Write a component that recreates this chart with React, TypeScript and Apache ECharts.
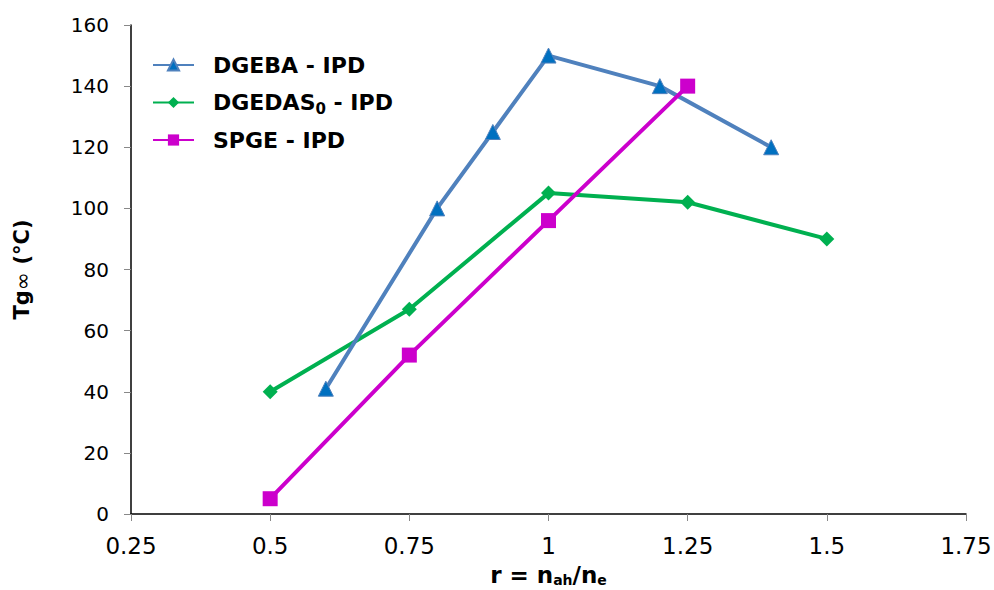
import React, { useEffect, useRef } from "react";
import * as echarts from "echarts";

const xTicks = [0.25, 0.5, 0.75, 1, 1.25, 1.5, 1.75];
const dgebaX = [0.6, 0.8, 0.9, 1.0, 1.2, 1.4];
const dgebaY = [41, 100, 125, 150, 140, 120];
const dgedasX = [0.5, 0.75, 1.0, 1.25, 1.5];
const dgedasY = [40, 67, 105, 102, 90];
const spgeX = [0.5, 0.75, 1.0, 1.25];
const spgeY = [5, 52, 96, 140];

const zip = (xs: number[], ys: number[]) => xs.map((x, i) => [x, ys[i]]);

export default function App() {
  const ref = useRef<HTMLDivElement>(null);
  useEffect(() => {
    if (!ref.current) return;
    const chart = echarts.init(ref.current, null, { renderer: "svg" });
    const font = "'DejaVu Sans', sans-serif";
    chart.setOption({
      animation: false,
      backgroundColor: "#ffffff",
      textStyle: { fontFamily: font },
      grid: { left: 131, right: 28, top: 25, bottom: 76, containLabel: false, outerBoundsMode: "none" },
      legend: {
        orient: "vertical",
        left: 152,
        top: 54,
        padding: 0,
        itemWidth: 41,
        itemHeight: 14,
        itemGap: 13,
        data: ["DGEBA - IPD", "DGEDAS0 - IPD", "SPGE - IPD"],
        formatter: (name: string) =>
          name === "DGEDAS0 - IPD"
            ? "{a|DGEDAS}{s|0}{a| - IPD}"
            : "{a|" + name + "}",
        textStyle: {
          padding: [0, 0, 0, 14],
          rich: {
            a: { fontSize: 22, fontWeight: "bold", color: "#000", fontFamily: font, lineHeight: 26 },
            s: { fontSize: 15, fontWeight: "bold", color: "#000", fontFamily: font, lineHeight: 26, padding: [12, 0, 0, 0] },
          },
        },
      },
      xAxis: {
        type: "value",
        min: 0.25,
        max: 1.75,
        interval: 0.25,
        name: "{a|r = n}{s|ah}{a|/n}{s|e}",
        nameLocation: "middle",
        nameGap: 48,
        nameTextStyle: {
          rich: {
            a: { fontSize: 23, fontWeight: "bold", color: "#000", fontFamily: font, lineHeight: 26 },
            s: { fontSize: 14, fontWeight: "bold", color: "#000", fontFamily: font, lineHeight: 18, padding: [10, 0, 0, 0] },
          },
        },
        axisLine: { show: true, lineStyle: { color: "#000", width: 1.5 } },
        axisTick: { show: true, length: 7, lineStyle: { color: "#888" } },
        axisLabel: {
          fontSize: 23,
          color: "#000",
          margin: 20,
          formatter: (v: number) => (xTicks.includes(v) ? String(v) : ""),
        },
        splitLine: { show: false },
      },
      yAxis: {
        type: "value",
        min: 0,
        max: 160,
        interval: 20,
        name: "{a|Tg}{i|∞}{a| (°C)}",
        nameLocation: "middle",
        nameGap: 98,
        nameRotate: 90,
        nameTextStyle: {
          rich: {
            a: { fontSize: 21, fontWeight: "bold", color: "#000", fontFamily: font },
            i: { fontSize: 22, fontWeight: "normal", color: "#000", fontFamily: font },
          },
        },
        axisLine: { show: true, lineStyle: { color: "#000", width: 1.5 } },
        axisTick: { show: true, inside: false, length: 7, lineStyle: { color: "#888" } },
        axisLabel: { fontSize: 20, color: "#000", margin: 22 },
        splitLine: { show: false },
      },
      series: [
        {
          name: "DGEBA - IPD",
          type: "line",
          data: zip(dgebaX, dgebaY),
          symbol: "triangle",
          symbolSize: 15,
          lineStyle: { color: "#4F81BD", width: 4 },
          itemStyle: { color: "#0070C0", borderColor: "#4F81BD", borderWidth: 1 },
          color: "#4F81BD",
          z: 3,
        },
        {
          name: "DGEDAS0 - IPD",
          type: "line",
          data: zip(dgedasX, dgedasY),
          symbol: "diamond",
          symbolSize: 15,
          lineStyle: { color: "#00B050", width: 4 },
          itemStyle: { color: "#00B050" },
          color: "#00B050",
          z: 2,
        },
        {
          name: "SPGE - IPD",
          type: "line",
          data: zip(spgeX, spgeY),
          symbol: "rect",
          symbolSize: 15,
          lineStyle: { color: "#CC00CC", width: 4 },
          itemStyle: { color: "#CC00CC" },
          color: "#CC00CC",
          z: 4,
        },
      ],
    });
    return () => chart.dispose();
  }, []);
  return <div ref={ref} style={{ width: 994, height: 590, position: "absolute", left: 0, top: 0 }} />;
}
